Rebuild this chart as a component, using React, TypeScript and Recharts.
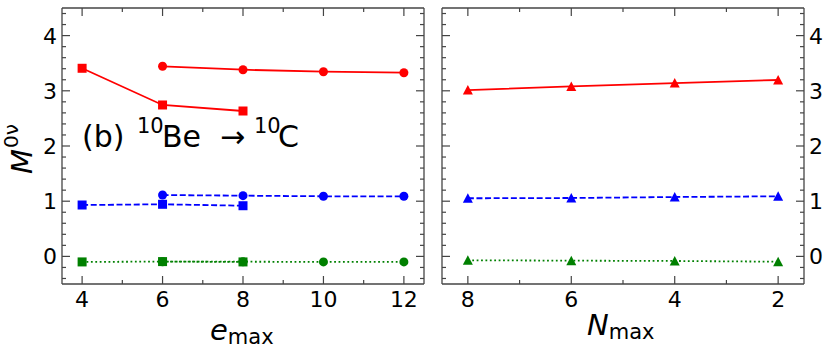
import React from 'react';
import { LineChart, Line, XAxis, YAxis } from 'recharts';

// ---- data ----
const emaxCircle = [6, 8, 10, 12];
const emaxSquare = [4, 6, 8];
const redCircle = [3.444, 3.382, 3.346, 3.328];
const redSquare = [3.408, 2.743, 2.634];
const blueCircle = [1.112, 1.1, 1.089, 1.089];
const blueSquare = [0.931, 0.944, 0.918];
const greenCircle = [-0.096, -0.096, -0.1, -0.1];
const greenSquare = [-0.1, -0.094, -0.1];

const nmax = [8, 6, 4, 2];
const redTri = [3.014, 3.08, 3.14, 3.196];
const blueTri = [1.053, 1.058, 1.076, 1.089];
const greenTri = [-0.07, -0.077, -0.083, -0.096];

const yMajor = [0, 1, 2, 3, 4];
const yMinor = [-0.4, -0.2, 0.2, 0.4, 0.6, 0.8, 1.2, 1.4, 1.6, 1.8, 2.2, 2.4, 2.6, 2.8, 3.2, 3.4, 3.6, 3.8, 4.2, 4.4];
const eMajor = [4, 6, 8, 10, 12];
const eMinor = [5, 7, 9, 11];
const nMajor = [2, 4, 6, 8];
const nMinor = [3, 5, 7];

const zip = (xs: number[], ys: number[]) => xs.map((x, i) => ({ x, y: ys[i] }));

// ---- layout ----
const PLOT_TOP = 8;
const PLOT_BOTTOM = 284;
const L_LEFT = 62;
const L_RIGHT = 424;
const R_LEFT = 442;
const R_RIGHT = 804;
const R_OFFSET = 420;
const SPINE = '#444';
const FONT = 'DejaVu Sans';
const LW = 1.8;
const DASH = '6 2.6';
const DOT = '1.8 2.6';

const RED = '#ff0000';
const BLUE = '#0000ff';
const GREEN = '#008000';

const squareDot = (color: string) => (p: any) => (
  <rect key={p.index} x={p.cx - 4.5} y={p.cy - 4.5} width={9} height={9} fill={color} />
);
const circleDot = (color: string) => (p: any) => (
  <circle key={p.index} cx={p.cx} cy={p.cy} r={4.5} fill={color} />
);
const triDot = (color: string) => (p: any) => (
  <polygon
    key={p.index}
    points={`${p.cx},${p.cy - 5} ${p.cx - 5},${p.cy + 4.5} ${p.cx + 5},${p.cy + 4.5}`}
    fill={color}
  />
);

const makeXTick = (edgeY: number, dir: number, show: boolean, majors: number[]) => (props: any) => {
  const x = props.x;
  const v = props.payload.value;
  const major = majors.includes(v);
  const len = major ? 8 : 4;
  return (
    <g key={`xt-${v}`}>
      <line x1={x} x2={x} y1={edgeY} y2={edgeY + dir * len} stroke={SPINE} strokeWidth={1.2} />
      {show && major && (
        <text x={x} y={edgeY + 23} textAnchor="middle" fontFamily={FONT} fontSize={22} fill="#000">
          {v}
        </text>
      )}
    </g>
  );
};

const makeYTick = (edgeX: number, dir: number, show: boolean, majors: number[]) => (props: any) => {
  const y = props.y;
  const v = props.payload.value;
  const major = majors.includes(v);
  const len = major ? 8 : 4;
  return (
    <g key={`yt-${v}`}>
      <line x1={edgeX} x2={edgeX + dir * len} y1={y} y2={y} stroke={SPINE} strokeWidth={1.2} />
      {show && major && (
        <text
          x={edgeX - dir * 5}
          y={y + 8}
          textAnchor={dir > 0 ? 'end' : 'start'}
          fontFamily={FONT}
          fontSize={22}
          fill="#000"
        >
          {v}
        </text>
      )}
    </g>
  );
};

const yTicks = [...yMajor, ...yMinor];

function LeftPanel() {
  return (
    <LineChart width={440} height={354} margin={{ top: 0, right: 0, bottom: 0, left: 0 }}>
      <XAxis
        xAxisId="b"
        type="number"
        dataKey="x"
        domain={[3.5, 12.5]}
        ticks={[...eMajor, ...eMinor]}
        interval={0}
        height={70}
        orientation="bottom"
        tickLine={false}
        axisLine={{ stroke: SPINE, strokeWidth: 1.3 }}
        tick={makeXTick(PLOT_BOTTOM, -1, true, eMajor)}
        allowDataOverflow
      />
      <XAxis
        xAxisId="t"
        type="number"
        dataKey="x"
        domain={[3.5, 12.5]}
        ticks={[...eMajor, ...eMinor]}
        interval={0}
        height={8}
        orientation="top"
        tickLine={false}
        axisLine={{ stroke: SPINE, strokeWidth: 1.3 }}
        tick={makeXTick(PLOT_TOP, 1, false, eMajor)}
        allowDataOverflow
      />
      <YAxis
        yAxisId="l"
        type="number"
        domain={[-0.5, 4.5]}
        ticks={yTicks}
        interval={0}
        width={L_LEFT}
        orientation="left"
        tickLine={false}
        axisLine={{ stroke: SPINE, strokeWidth: 1.3 }}
        tick={makeYTick(L_LEFT, 1, true, yMajor)}
        allowDataOverflow
      />
      <YAxis
        yAxisId="r"
        type="number"
        domain={[-0.5, 4.5]}
        ticks={yTicks}
        interval={0}
        width={440 - L_RIGHT}
        orientation="right"
        tickLine={false}
        axisLine={{ stroke: SPINE, strokeWidth: 1.3 }}
        tick={makeYTick(L_RIGHT, -1, false, yMajor)}
        allowDataOverflow
      />
      <Line xAxisId="b" yAxisId="l" data={zip(emaxSquare, greenSquare)} dataKey="y" stroke={GREEN} strokeWidth={LW} strokeDasharray={DOT} dot={squareDot(GREEN)} isAnimationActive={false} />
      <Line xAxisId="b" yAxisId="l" data={zip(emaxCircle, greenCircle)} dataKey="y" stroke={GREEN} strokeWidth={LW} strokeDasharray={DOT} dot={circleDot(GREEN)} isAnimationActive={false} />
      <Line xAxisId="b" yAxisId="l" data={zip(emaxSquare, blueSquare)} dataKey="y" stroke={BLUE} strokeWidth={LW} strokeDasharray={DASH} dot={squareDot(BLUE)} isAnimationActive={false} />
      <Line xAxisId="b" yAxisId="l" data={zip(emaxCircle, blueCircle)} dataKey="y" stroke={BLUE} strokeWidth={LW} strokeDasharray={DASH} dot={circleDot(BLUE)} isAnimationActive={false} />
      <Line xAxisId="b" yAxisId="l" data={zip(emaxSquare, redSquare)} dataKey="y" stroke={RED} strokeWidth={LW} dot={squareDot(RED)} isAnimationActive={false} />
      <Line xAxisId="b" yAxisId="l" data={zip(emaxCircle, redCircle)} dataKey="y" stroke={RED} strokeWidth={LW} dot={circleDot(RED)} isAnimationActive={false} />
    </LineChart>
  );
}

function RightPanel() {
  const W = 411;
  return (
    <LineChart width={W} height={354} margin={{ top: 0, right: 0, bottom: 0, left: 0 }}>
      <XAxis
        xAxisId="b"
        type="number"
        dataKey="x"
        domain={[1.5, 8.5]}
        reversed
        ticks={[...nMajor, ...nMinor]}
        interval={0}
        height={70}
        orientation="bottom"
        tickLine={false}
        axisLine={{ stroke: SPINE, strokeWidth: 1.3 }}
        tick={makeXTick(PLOT_BOTTOM, -1, true, nMajor)}
        allowDataOverflow
      />
      <XAxis
        xAxisId="t"
        type="number"
        dataKey="x"
        domain={[1.5, 8.5]}
        reversed
        ticks={[...nMajor, ...nMinor]}
        interval={0}
        height={8}
        orientation="top"
        tickLine={false}
        axisLine={{ stroke: SPINE, strokeWidth: 1.3 }}
        tick={makeXTick(PLOT_TOP, 1, false, nMajor)}
        allowDataOverflow
      />
      <YAxis
        yAxisId="l"
        type="number"
        domain={[-0.5, 4.5]}
        ticks={yTicks}
        interval={0}
        width={R_LEFT - R_OFFSET}
        orientation="left"
        tickLine={false}
        axisLine={{ stroke: SPINE, strokeWidth: 1.3 }}
        tick={makeYTick(R_LEFT - R_OFFSET, 1, false, yMajor)}
        allowDataOverflow
      />
      <YAxis
        yAxisId="r"
        type="number"
        domain={[-0.5, 4.5]}
        ticks={yTicks}
        interval={0}
        width={W - (R_RIGHT - R_OFFSET)}
        orientation="right"
        tickLine={false}
        axisLine={{ stroke: SPINE, strokeWidth: 1.3 }}
        tick={makeYTick(R_RIGHT - R_OFFSET, -1, true, yMajor)}
        allowDataOverflow
      />
      <Line xAxisId="b" yAxisId="l" data={zip(nmax, greenTri)} dataKey="y" stroke={GREEN} strokeWidth={LW} strokeDasharray={DOT} dot={triDot(GREEN)} isAnimationActive={false} />
      <Line xAxisId="b" yAxisId="l" data={zip(nmax, blueTri)} dataKey="y" stroke={BLUE} strokeWidth={LW} strokeDasharray={DASH} dot={triDot(BLUE)} isAnimationActive={false} />
      <Line xAxisId="b" yAxisId="l" data={zip(nmax, redTri)} dataKey="y" stroke={RED} strokeWidth={LW} dot={triDot(RED)} isAnimationActive={false} />
    </LineChart>
  );
}

export default function App() {
  return (
    <div style={{ position: 'absolute', left: 0, top: 0, width: 831, height: 354, background: '#fff', overflow: 'hidden' }}>
      <div style={{ position: 'absolute', left: 0, top: 0 }}>
        <LeftPanel />
      </div>
      <div style={{ position: 'absolute', left: R_OFFSET, top: 0 }}>
        <RightPanel />
      </div>
      <svg
        width={831}
        height={354}
        style={{ position: 'absolute', left: 0, top: 0, pointerEvents: 'none' }}
        fontFamily={FONT}
      >
        <text transform="translate(31.5,174) rotate(-90)" fill="#000">
          <tspan fontStyle="italic" fontSize={29}>M</tspan>
          <tspan fontSize={20} dx={1} dy={-14}>0ν</tspan>
        </text>
        <text x={210} y={340} fill="#000">
          <tspan fontStyle="italic" fontSize={29}>e</tspan>
          <tspan fontSize={21} dy={4}>max</tspan>
        </text>
        <text x={587} y={335} fill="#000">
          <tspan fontStyle="italic" fontSize={29}>N</tspan>
          <tspan fontSize={21} dy={4}>max</tspan>
        </text>
        <text fill="#000" fontSize={30}>
          <tspan x={82} y={147}>(b)</tspan>
          <tspan x={137} y={133} fontSize={21}>10</tspan>
          <tspan x={162} y={147}>Be</tspan>
          <tspan x={220} y={147}>→</tspan>
          <tspan x={254} y={133} fontSize={21}>10</tspan>
          <tspan x={278} y={147}>C</tspan>
        </text>
      </svg>
    </div>
  );
}
